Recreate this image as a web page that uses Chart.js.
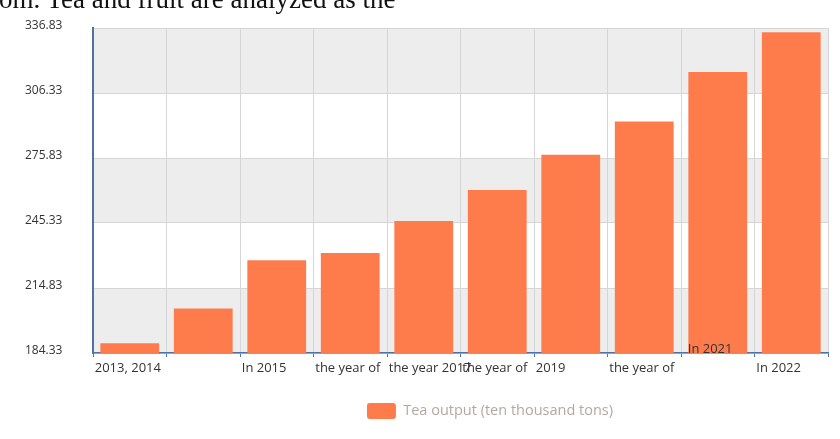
<!DOCTYPE html>
<html>
<head>
<meta charset="utf-8">
<script src="https://cdn.jsdelivr.net/npm/chart.js@4"></script>
<style>
  html, body { margin: 0; padding: 0; background: #fff; overflow: hidden; width: 840px; height: 439px; }
  #wrap { position: absolute; left: 0; top: 0; width: 955px; height: 439px; }
  #cut { position: absolute; left: -1px; top: -14px; font: 27px/27px 'Liberation Serif', serif; color: #111; white-space: nowrap; z-index: 2; }
</style>
</head>
<body>
<div id="cut">om. Tea and fruit are analyzed as the</div>
<div id="wrap"><canvas id="myChart"></canvas></div>
<script>
const categorias = ['2013, 2014', '', 'In 2015', 'the year of', 'the year 2017', 'the year of', '2019', 'the year of', 'In 2021', 'In 2022'];
const produccion = [188.9, 205.2, 227.9, 231.2, 246.3, 260.8, 277.4, 293.0, 316.2, 334.8];
const yMin = 184.33;
const yMax = 336.83;
const yStep = 30.5;
const serieNombre = 'Tea output (ten thousand tons)';

const NARANJA = '#fe7c4c';
const AZUL = '#4c72a6';
const raisedIndex = 8; // este label va dibujado encima del eje

// bandas grises alternadas detras de la grilla
const bandas = {
    id: 'bandas',
    beforeDraw(chart) {
        const { ctx, chartArea } = chart;
        const y = chart.scales.y;
        ctx.save();
        ctx.fillStyle = '#ededed';
        for (let i = 0; i < y.ticks.length - 1; i += 2) {
            const y0 = y.getPixelForValue(y.ticks[i].value);
            const y1 = y.getPixelForValue(y.ticks[i + 1].value);
            ctx.fillRect(chartArea.left, y1, chartArea.right - chartArea.left, y0 - y1);
        }
        ctx.restore();
    },
    afterDraw(chart) {
        const x = chart.scales.x;
        const { ctx, chartArea } = chart;
        ctx.save();
        ctx.font = '13px "Open Sans"';
        ctx.fillStyle = '#333';
        ctx.textAlign = 'left';
        ctx.textBaseline = 'middle';
        ctx.fillText(categorias[raisedIndex], x.getPixelForTick(raisedIndex) - 30, chartArea.bottom - 4);
        ctx.restore();
    }
};

const chartConfig = {
    type: 'bar',
    data: {
        labels: categorias,
        datasets: [
            {
                label: serieNombre,
                data: produccion,
                backgroundColor: NARANJA,
                borderWidth: 0,
                categoryPercentage: 0.8,
                barPercentage: 1.0,
            },
        ],
    },
    options: {
        responsive: false,
        animation: false,
        layout: { padding: { top: 28, right: 0, bottom: 10, left: 25 } },
        plugins: {
            tooltip: { enabled: false },
            legend: {
                position: 'bottom',
                labels: {
                    boxWidth: 29,
                    boxHeight: 16,
                    useBorderRadius: true,
                    borderRadius: 3,
                    color: '#b3a9a2',
                    font: { family: 'Open Sans', size: 14.5 },
                    padding: 10,
                },
            },
        },
        scales: {
            x: {
                grid: { color: '#d6d6d6', tickColor: AZUL, tickLength: 4, offset: true },
                border: { color: AZUL, width: 1.5 },
                ticks: {
                    autoSkip: false,
                    maxRotation: 0,
                    align: 'start',
                    labelOffset: -35,
                    padding: 3,
                    color: '#333',
                    font: { family: 'Open Sans', size: 13 },
                    callback: (v, i) => (i === raisedIndex ? '' : categorias[i]),
                },
                afterFit: (s) => { s.height = 40; },
            },
            y: {
                min: yMin,
                max: yMax,
                grid: { color: '#d6d6d6', drawTicks: false },
                border: { color: AZUL, width: 2 },
                ticks: {
                    stepSize: yStep,
                    padding: 3,
                    crossAlign: 'far',
                    labelOffset: -2,
                    color: '#333',
                    font: { family: 'Open Sans', size: 12 },
                    callback: (v) => Number(v).toFixed(2),
                },
                afterFit: (s) => { s.width = 68; },
            },
            // espacio vacio a la derecha, asi la leyenda queda centrada como en el original
            margen: {
                type: 'linear',
                position: 'right',
                grid: { display: false },
                border: { display: false },
                ticks: { display: false },
                afterFit: (s) => { s.width = 127; },
            },
        },
    },
    plugins: [bandas],
};

const canvas = document.getElementById('myChart');
canvas.width = 955;
canvas.height = 439;
new Chart(canvas, chartConfig);
</script>
</body>
</html>
